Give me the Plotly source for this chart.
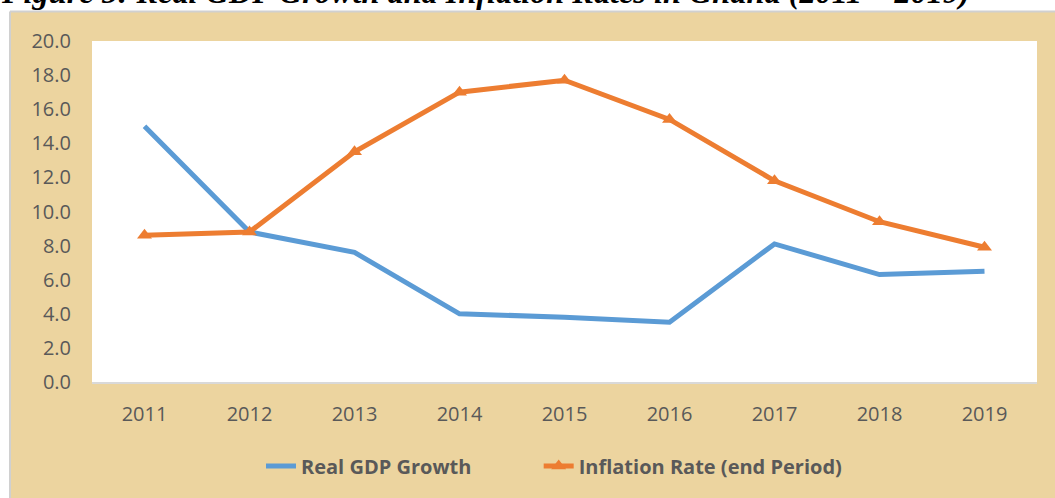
import plotly.graph_objects as go

years = ["2011", "2012", "2013", "2014", "2015", "2016", "2017", "2018", "2019"]
gdp_growth = [15.0, 8.8, 7.6, 4.0, 3.8, 3.5, 8.1, 6.3, 6.5]
inflation = [8.6, 8.8, 13.5, 17.0, 17.7, 15.4, 11.8, 9.4, 7.9]
y_ticks = [0, 2, 4, 6, 8, 10, 12, 14, 16, 18, 20]

W, H = 1055, 498
L, R, T, B = 92, 1037, 41, 382  # plot area in pixels


def px_x(p):
    return (p - L) / (R - L)


def px_y(p):
    return (B - p) / (B - T)


BLUE = "#5B9BD5"
ORANGE = "#ED7D31"
TEXT = "#595959"
PARCH = "#ECD49F"
NBSP = "\u00a0"

fig = go.Figure()
fig.add_trace(go.Scatter(
    x=years, y=gdp_growth, name="Real GDP Growth" + NBSP * 12, mode="lines",
    line=dict(color=BLUE, width=5),
))
fig.add_trace(go.Scatter(
    x=years, y=inflation, name="Inflation Rate (end Period)", mode="lines+markers",
    line=dict(color=ORANGE, width=5),
    marker=dict(symbol="triangle-up", size=13, color=ORANGE),
))

shapes = [
    # white strip above the frame (title area)
    dict(type="rect", xref="paper", yref="paper", x0=px_x(-5), x1=px_x(W + 5),
         y0=px_y(11), y1=px_y(-5), fillcolor="white", line=dict(width=0), layer="below"),
    # white strip left of the frame
    dict(type="rect", xref="paper", yref="paper", x0=px_x(-5), x1=px_x(10),
         y0=px_y(H + 5), y1=px_y(-5), fillcolor="white", line=dict(width=0), layer="below"),
    # frame lines
    dict(type="line", xref="paper", yref="paper", x0=px_x(10), x1=px_x(W + 5),
         y0=px_y(11.5), y1=px_y(11.5), line=dict(color="#D0D0D0", width=2), layer="below"),
    dict(type="line", xref="paper", yref="paper", x0=px_x(10), x1=px_x(10),
         y0=px_y(11.5), y1=px_y(H + 5), line=dict(color="#D0D0D0", width=2), layer="below"),
]

fig.update_layout(
    width=W, height=H, autosize=False,
    margin=dict(l=L, r=W - R, t=T, b=H - B, pad=0),
    paper_bgcolor=PARCH,
    plot_bgcolor="white",
    font=dict(family="Open Sans, sans-serif", size=20, color=TEXT),
    showlegend=True,
    legend=dict(
        orientation="h", x=px_x(261), xanchor="left", y=px_y(466), yanchor="middle",
        font=dict(family="Open Sans, sans-serif", size=20, color=TEXT, weight="bold"),
        bgcolor="rgba(0,0,0,0)", itemwidth=30, traceorder="normal",
    ),
    shapes=shapes,
    annotations=[dict(
        text="<b><i>Figure 5: Real GDP Growth and Inflation Rates in Ghana (2011 – 2019)</i></b>",
        xref="paper", yref="paper", x=px_x(-1), y=px_y(-7.5), xanchor="left", yanchor="middle",
        showarrow=False, font=dict(family="Liberation Serif, Times New Roman, serif", size=32.3, color="black"),
    )],
)

fig.update_xaxes(
    type="category", range=[-0.5, 8.5], showgrid=False, zeroline=False,
    showline=True, linecolor="#D9D9D9", linewidth=2,
    ticks="", ticklabelstandoff=13,
    tickfont=dict(family="Open Sans, sans-serif", size=20, color=TEXT),
)
fig.update_yaxes(
    range=[0, 20], tickvals=y_ticks, tickformat=".1f", showgrid=False, zeroline=False,
    showline=False, ticks="", ticklabelstandoff=20,
    tickfont=dict(family="Open Sans, sans-serif", size=20, color=TEXT),
)

fig.write_html(
    "out.html",
    config={"displayModeBar": False},
    post_script="document.body.style.margin='0';document.body.style.padding='0';",
)
